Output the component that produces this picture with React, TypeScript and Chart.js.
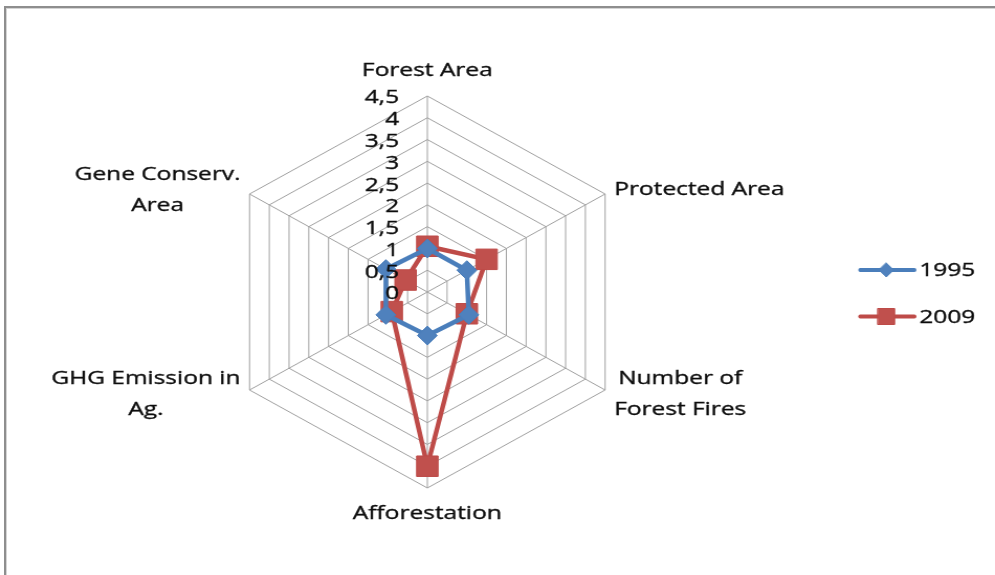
import { useEffect, useRef } from "react";
import { Chart, registerables } from "chart.js";

Chart.register(...registerables);

// ---------- data ----------
const CATEGORIES: string[][] = [
  ["Forest Area"],
  ["Protected Area"],
  ["Number of", "Forest Fires"],
  ["Afforestation"],
  ["GHG Emission in", "Ag."],
  ["Gene Conserv.", "Area"],
];
const SERIES_NAMES = ["1995", "2009"];
const VALUES_1995 = [1.0, 1.0, 1.05, 1.0, 1.05, 1.05];
const VALUES_2009 = [1.05, 1.5, 1.0, 4.0, 0.9, 0.55];
const R_MIN = 0;
const R_MAX = 4.5;
const R_STEP = 0.5;

// ---------- styles ----------
const BLUE_LINE = "#4A7EBB";
const BLUE_FILL = "#4F81BD";
const RED_LINE = "#BE4B48";
const RED_FILL = "#C0504D";
const GRID = "#a0a0a0";
const TEXT = "#0d0d0d";
const FONT = '19px "Open Sans"';
const STRETCH = 1.047; // horizontal stretch of the whole picture
const SX = 1.23; // extra horizontal text stretch
const LINE_GAP = 31;
const CW = Math.round(995 / STRETCH);

function drawText(ctx: CanvasRenderingContext2D, s: string, x: number, y: number, align: "left" | "right" | "center") {
  const w = ctx.measureText(s).width * SX;
  const left = align === "left" ? x : align === "right" ? x - w : x - w / 2;
  ctx.save();
  ctx.translate(left, y);
  ctx.scale(SX, 1);
  ctx.textAlign = "left";
  ctx.textBaseline = "middle";
  ctx.fillText(s, 0, 0);
  ctx.lineWidth = 0.35;
  ctx.strokeStyle = TEXT;
  ctx.strokeText(s, 0, 0);
  ctx.restore();
}

const textPlugin = {
  id: "excelText",
  afterDatasetsDraw(chart: any) {
    const ctx: CanvasRenderingContext2D = chart.ctx;
    const r = chart.scales.r;
    ctx.save();
    ctx.font = FONT;
    ctx.fillStyle = TEXT;

    // tick labels
    r.ticks.forEach((t: any) => {
      const d = r.getDistanceFromCenterForValue(t.value);
      const label = String(t.value).replace(".", ",");
      drawText(ctx, label, r.xCenter - 27, r.yCenter - d + 2, "right");
    });

    // point labels
    const labels = chart.data.labels as string[][];
    labels.forEach((lines, i) => {
      const pos = r.getPointPosition(i, r.drawingArea + 10);
      const ang = r.getIndexAngle(i);
      const s = Math.sin(ang);
      const c = Math.cos(ang);
      const blockW = Math.max(...lines.map((l) => ctx.measureText(l).width * SX));
      const blockH = (lines.length - 1) * LINE_GAP;
      let cx: number;
      let cy: number;
      if (Math.abs(s) < 0.01) {
        cx = pos.x;
        cy = pos.y + (c > 0 ? -15 : 16);
      } else {
        cx = s > 0 ? pos.x + blockW / 2 : pos.x - blockW / 2;
        cy = pos.y + (c > 0 ? 1 : -1);
      }
      lines.forEach((l, k) => {
        drawText(ctx, l, cx, cy - blockH / 2 + k * LINE_GAP, "center");
      });
    });

    // legend
    const lx0 = 860 / STRETCH;
    const lx1 = 914 / STRETCH;
    const mx = 886 / STRETCH;
    const tx = 919 / STRETCH;
    chart.data.datasets.forEach((ds: any, i: number) => {
      const y = 270 + i * 46.5;
      ctx.save();
      ctx.strokeStyle = ds.borderColor;
      ctx.lineWidth = 4;
      ctx.lineCap = "round";
      ctx.beginPath();
      ctx.moveTo(lx0, y);
      ctx.lineTo(lx1, y);
      ctx.stroke();
      ctx.fillStyle = ds.pointBackgroundColor;
      ctx.strokeStyle = ds.borderColor;
      ctx.lineWidth = 1;
      ctx.beginPath();
      if (ds.pointStyle === "rectRot") {
        const h = 7;
        ctx.moveTo(mx, y - h);
        ctx.lineTo(mx + h, y);
        ctx.lineTo(mx, y + h);
        ctx.lineTo(mx - h, y);
        ctx.closePath();
      } else {
        ctx.rect(mx - 8, y - 8, 16, 16);
      }
      ctx.fill();
      ctx.stroke();
      ctx.restore();
      ctx.fillStyle = TEXT;
      drawText(ctx, ds.label, tx, y + 1, "left");
    });
    ctx.restore();
  },
};

export default function App() {
  const ref = useRef<HTMLCanvasElement | null>(null);

  useEffect(() => {
    if (!ref.current) return;
    const centerX = 427 / STRETCH;
    const left = Math.round(centerX - 196);
    const chart = new Chart(ref.current, {
      type: "radar",
      data: {
        labels: CATEGORIES as any,
        datasets: [
          {
            label: SERIES_NAMES[0],
            data: VALUES_1995,
            borderColor: BLUE_LINE,
            backgroundColor: BLUE_FILL,
            pointBackgroundColor: BLUE_FILL,
            pointBorderColor: BLUE_LINE,
            pointBorderWidth: 1,
            pointStyle: "rectRot",
            pointRadius: 9.5,
            borderWidth: 4.5,
            fill: false,
          },
          {
            label: SERIES_NAMES[1],
            data: VALUES_2009,
            borderColor: RED_LINE,
            backgroundColor: RED_FILL,
            pointBackgroundColor: RED_FILL,
            pointBorderColor: RED_LINE,
            pointBorderWidth: 1,
            pointStyle: "rect",
            pointRadius: 14.5,
            borderWidth: 4.5,
            fill: false,
          },
        ],
      },
      options: {
        responsive: false,
        animation: false,
        layout: { padding: { top: 96, bottom: 87, left, right: CW - left - 392 } },
        plugins: { legend: { display: false }, tooltip: { enabled: false } },
        elements: { line: { tension: 0 } },
        scales: {
          r: {
            min: R_MIN,
            max: R_MAX,
            ticks: { stepSize: R_STEP, display: false },
            grid: { color: GRID, lineWidth: 1 },
            angleLines: { color: GRID, lineWidth: 1 },
            pointLabels: { display: false },
          },
        },
      },
      plugins: [textPlugin],
    });
    return () => chart.destroy();
  }, []);

  return (
    <div style={{ position: "fixed", left: 0, top: 0, width: 995, height: 575, background: "#fff", overflow: "hidden" }}>
      <canvas
        ref={ref}
        width={CW}
        height={575}
        style={{
          position: "absolute",
          left: 0,
          top: 0,
          width: CW,
          height: 575,
          transform: `scaleX(${995 / CW})`,
          transformOrigin: "0 0",
        }}
      />
      <div
        style={{
          position: "absolute",
          left: 4,
          top: 6,
          right: -10,
          bottom: -10,
          borderTop: "2px solid #8e8e8e",
          borderLeft: "2px solid #8e8e8e",
          boxShadow: "inset 1px 1px 0 #d4d4d4",
          pointerEvents: "none",
        }}
      />
    </div>
  );
}
